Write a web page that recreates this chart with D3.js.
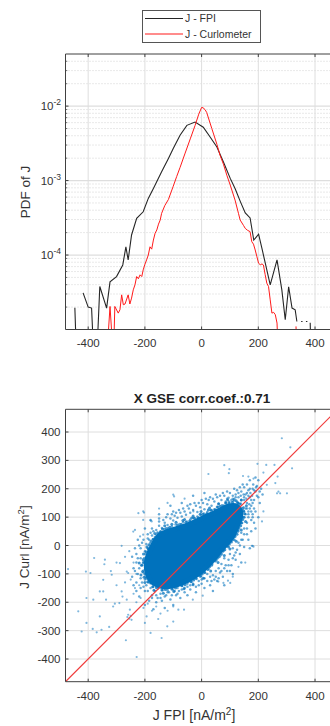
<!DOCTYPE html>
<html><head><meta charset="utf-8">
<script src="https://cdn.jsdelivr.net/npm/d3@7"></script>
<style>
body{margin:0;background:#fff;}
svg{display:block;font-family:"Liberation Sans",Arial,Helvetica,sans-serif;}
</style></head><body>
<svg id="c" width="330" height="726"></svg>
<script>
// ---------- DATA ----------
const legendLabels = ["J - FPI", "J - Curlometer"];
const titleText = "X GSE corr.coef.:0.71";
const xTickVals = [-400, -200, 0, 200, 400];
const pdfTickVals = [1e-4, 1e-3, 1e-2];
const pdfTickExp = ["-4", "-3", "-2"];
const curlTickVals = [-400, -300, -200, -100, 0, 100, 200, 300, 400];

// PDF of J, FPI (black); null = empty bin
const fpiJ = [-447,-441,-430,-418,-400,-388,-380,-370,-359,-335,-323,-300,-278,-267,-259,-247,-229,-206,-188,-170,-141,-117,-100,-76,-52,-23,6,30,54,77,101,118,136,154,171,184,201,214,242,266,283,295,307,319,330,336,342,351,356,362,368,373,378,383,386];
const fpiPdf = [1.96e-5,4e-6,null,3.1e-5,2.0e-5,1.94e-5,4e-6,4e-6,3.78e-5,1.94e-5,4.37e-5,5.14e-5,7.36e-5,1.29e-4,8.6e-5,1.86e-4,3.11e-4,3.81e-4,5.76e-4,7.84e-4,1.31e-3,1.98e-3,2.69e-3,4.06e-3,5.52e-3,6.1e-3,5.2e-3,3.85e-3,2.83e-3,1.78e-3,1.07e-3,7.84e-4,5.3e-4,3.67e-4,3.15e-4,1.59e-4,1.91e-4,1.17e-4,3.98e-5,8.6e-5,3.4e-5,1.35e-5,3.75e-5,1.94e-5,1.84e-5,1.28e-5,null,1.28e-5,1.28e-5,null,1.28e-5,1.28e-5,null,1.23e-5,4e-6];

// PDF of J, Curlometer (red)
const curlJ = [-335,-323,-311,-306,-294,-288,-282,-276,-270,-259,-253,-247,-241,-235,-229,-223,-217,-211,-206,-200,-194,-188,-182,-176,-170,-164,-158,-152,-146,-141,-130,-117,-100,-88,-76,-58,-40,-23,-10,0,5,12,18,36,54,65,77,89,101,118,130,136,148,154,162,171,177,183,189,195,201,207,213,218,224,230,236,242,248,254,260,266,271,277,330,333,336];
const curlPdf = [4e-6,2.04e-5,4e-6,2.04e-5,1.66e-5,1.84e-5,2.92e-5,2.15e-5,2.2e-5,2.92e-5,2.2e-5,2.64e-5,3.41e-5,3.98e-5,5.14e-5,4.8e-5,5.42e-5,5.14e-5,6.32e-5,7.5e-5,8.6e-5,1.0e-4,1.29e-4,1.2e-4,1.59e-4,1.96e-4,2.17e-4,2.6e-4,2.95e-4,3.63e-4,4.6e-4,5.58e-4,8.4e-4,1.13e-3,1.5e-3,2.34e-3,3.63e-3,5.5e-3,7.8e-3,9.6e-3,9.5e-3,9.0e-3,8.2e-3,5.0e-3,3.07e-3,2.19e-3,1.66e-3,1.18e-3,8.7e-4,5.47e-4,3.63e-4,2.95e-4,2.49e-4,2.28e-4,2.15e-4,2.06e-4,1.51e-4,1.4e-4,1.17e-4,9.5e-5,7.76e-5,7.4e-5,7.6e-5,7.36e-5,5.5e-5,4.19e-5,3.78e-5,2.5e-5,1.66e-5,1.7e-5,1.58e-5,1.22e-5,4e-6,null,null,1.1e-5,4e-6];

// Scatter: saturated core outline (J FPI, J Curl)
const coreOutline = [[-192,-95],[-195,-60],[-185,-25],[-170,5],[-150,35],[-120,50],[-80,62],[-50,72],[-20,85],[10,100],[40,113],[70,128],[100,140],[125,138],[138,118],[135,90],[122,60],[108,30],[88,5],[65,-20],[45,-45],[20,-72],[-5,-95],[-35,-115],[-65,-130],[-100,-142],[-135,-145],[-165,-135],[-183,-118]];

// Scatter: dense points along the core edge
const edgePts = [[-200,-100],[-208,-92],[-203,-112],[-214,-104],[-204,-58],[-212,-70],[-206,-50],[-220,-62],[-196,-22],[-193,-5],[-205,-30],[-188,-12],[-178,15],[-170,22],[-186,2],[-163,18],[-155,45],[-145,48],[-165,42],[-138,58],[-125,60],[-112,64],[-130,70],[-105,75],[-85,72],[-72,75],[-90,82],[-66,88],[-55,82],[-42,86],[-60,92],[-35,97],[-25,96],[-12,98],[-30,104],[-5,110],[5,110],[18,112],[-2,120],[24,125],[35,124],[48,126],[28,132],[55,136],[66,138],[78,140],[60,146],[85,150],[96,150],[108,152],[92,160],[115,162],[128,150],[135,145],[122,158],[140,160],[148,122],[145,130],[152,112],[158,140],[145,92],[142,80],[150,100],[155,85],[132,62],[128,50],[138,70],[140,55],[118,32],[115,20],[125,40],[122,15],[98,5],[95,-5],[105,12],[100,-12],[75,-20],[70,-30],[82,-15],[80,-35],[55,-45],[48,-55],[62,-40],[58,-60],[28,-75],[22,-85],[35,-70],[32,-90],[2,-100],[-5,-108],[10,-95],[6,-115],[-28,-122],[-38,-128],[-20,-115],[-30,-138],[-58,-138],[-70,-142],[-50,-128],[-62,-152],[-92,-150],[-105,-153],[-85,-140],[-98,-162],[-128,-155],[-140,-157],[-120,-150],[-135,-168],[-160,-148],[-172,-145],[-152,-142],[-168,-158],[-190,-128],[-195,-115],[-180,-132],[-200,-130]];

// Scatter: sparser points around the core
const fringePts = [[-198,-30],[-190,-10],[-182,8],[-172,22],[-160,38],[-145,50],[-132,58],[-118,62],[-105,68],[-92,74],[-78,76],[-65,82],[-52,85],[-40,92],[-28,98],[-15,102],[-3,108],[8,113],[20,118],[32,124],[45,128],[58,136],[72,142],[85,150],[98,154],[112,156],[126,152],[138,148],[148,135],[150,120],[147,100],[140,78],[130,55],[118,38],[105,18],[92,-3],[78,-18],[66,-35],[52,-52],[38,-65],[25,-82],[12,-95],[-2,-108],[-18,-118],[-35,-128],[-50,-135],[-68,-142],[-85,-150],[-102,-155],[-120,-158],[-138,-158],[-155,-152],[-172,-145],[-188,-130],[-198,-110],[-205,-88],[-207,-62],[-203,-45],
[-200,-20],[-195,5],[-185,20],[-175,35],[-165,30],[-160,55],[-150,70],[-140,62],[-130,80],[-120,72],[-110,95],[-100,88],[-95,105],[-85,98],[-75,115],[-70,102],[-60,120],[-55,108],[-45,130],[-40,115],[-30,125],[-20,140],[-15,118],[-5,135],[5,150],[10,128],[20,145],[25,160],[35,140],[45,155],[55,170],[60,148],[70,160],[80,175],[85,155],[95,168],[100,185],[110,165],[120,180],[125,195],[130,170],[140,190],[150,205],[155,180],[160,215],[165,195],[170,230],[145,215],[135,205],[115,200],[90,190],[75,185],[50,180],[30,170],[0,160],[-25,150],[-50,140],[-80,125],[-105,110],[-125,100],[-150,85],[-175,60],[-190,40],[-210,10],[-215,-10],
[150,160],[160,150],[170,170],[175,140],[180,200],[185,160],[190,190],[165,120],[155,130],[140,160],[130,150],[175,120],[185,130],[195,210],[200,170],[205,150],[200,230],[190,240],[210,200],[215,180],
[165,100],[160,80],[175,90],[150,60],[160,40],[140,45],[145,20],[130,10],[125,-15],[110,-10],[115,-35],[100,-30],[95,-50],[80,-45],[85,-70],[70,-65],[60,-80],[65,-95],[50,-90],[40,-105],[45,-120],[30,-110],[20,-125],[10,-115],[0,-135],[-10,-125],[-20,-145],[-30,-135],[-40,-155],[-50,-145],[-60,-165],[-70,-155],[-85,-170],[-95,-160],[-105,-175],[-120,-165],[-130,-180],[-145,-170],[-155,-185],[-165,-160],[-175,-175],[-180,-150],[-195,-140],[-200,-120],[-205,-95],[-210,-70],[-215,-45],[-200,-160],[-185,-195],[-160,-200],[-140,-195],[-110,-190],[-75,-185],[-50,-175],[-20,-165],[10,-150],[30,-140],[55,-125],[75,-110],[90,-90],[105,-70],[120,-50],[135,-30],[150,-5],[165,20],[175,50],[185,80],[180,110],[200,100],[190,60],[170,-10],[140,-60],[110,-100],[80,-140],[40,-160],[-100,-210],[-130,-220],[-170,-225],[-200,-210],[-220,-180],[-230,-130],[-235,-90],[-230,-30],[-225,20],[-200,60],[-180,90],[-150,110],[-110,140],[-70,150],[-30,175],[10,185],
[150,170],[158,165],[165,175],[172,185],[178,175],[185,195],[160,185],[148,180],[138,175],[170,200],[182,215],[192,205],[175,160],[168,145],[180,150],[195,175],[205,190],[120,170],[110,175],[130,185],[105,160],[90,165],[160,130],[170,130],[155,110],[165,110],[180,100],[190,120],
[-210,-130],[-215,-115],[-225,-100],[-220,-80],[-230,-60],[-225,-45],[-215,-150],[-205,-145],[-190,-160],[-175,-185],[-160,-175],[-145,-185],[-125,-175],[-115,-165],[-90,-175],[-80,-160],[-60,-150],[-40,-140],[-230,-160],[-240,-140],[-245,-110],[-240,-80],[-245,-40],[-235,-10],[-220,0],[-205,20],
[-190,25],[-180,45],[-170,50],[-150,95],[-135,90],[-120,110],[-100,120],[-90,115],[-65,130],[-40,145],[-10,150],[15,165],[40,165],[65,175],
[20,-100],[35,-125],[50,-110],[70,-90],[80,-80],[95,-70],[110,-45],[120,-25],[135,0],[140,20],[150,40],[160,60],[100,-90],[60,-115],[0,-120],[-10,-140]];

// Scatter: isolated points
const outlierPts = [[283,378],[313,346],[319,272],[197,288],[228,284],[257,284],[80,283],[98,269],[96,255],[24,252],[218,257],[268,243],[146,245],[165,243],[183,236],[260,220],[266,184],[277,184],[230,214],[301,184],[271,190],[-97,173],[-100,179],[213,85],[218,120],[-203,116],[-223,114],[-206,120],[-235,55],[-206,90],[-180,88],[-176,85],[180,-1],[183,-4],[-29,120],
[-471,-83],[-435,-232],[-423,-303],[-406,-273],[-384,-294],[-406,-185],[-408,-92],[-392,-97],[-382,-191],[-379,-44],[-359,-162],[-347,-162],[-359,-250],[-370,-306],[-353,-297],[-341,-50],[-343,-66],[-337,-191],[-326,-287],[-317,-103],[-347,-121],[-312,-215],[-306,-205],[-290,-203],[-288,-62],[-282,-1],[-264,-92],[-259,-97],[-282,-162],[-279,-180],[-264,-191],[-259,-244],[-267,-334],[-247,-262],[-229,-393],[-253,-226],[-235,-150],[-241,49],[-194,-250],[-200,-273],[-180,-308],[-153,-259],[-141,-326],[-121,-285],[-100,-268],[-82,-226],[-62,-226],[-31,-191],[4,-177],[59,-127],[93,-124],[101,-132],[77,-132],[154,-60],[177,-1],[-206,38],[-217,32],
[-262,-252],[-255,-258],[-250,-248],[-230,-200],[-215,-185],[-205,-220],[-190,-205],[-175,-230],[-160,-215],[-145,-240],[-120,-230],[-100,-215],[-240,-170],[-220,-140],[-250,-120],[-270,-130],[-300,-140],[-320,-90],[-300,-60],[-270,-40],[-255,-20],[-240,-60],[-230,-100],[110,-110],[130,-75],[-120,150],[-60,165],[-150,130]];

const diagLine = [-480, 480];

// ---------- DRAW ----------
const svg = d3.select("#c");
svg.append("rect").attr("width", 330).attr("height", 726).attr("fill", "#fff");
const defs = svg.append("defs");

const L = 65.5, R = 337.7;
const axisCol = "#404040", gridCol = "#dedede", textCol = "#333";
const x = d3.scaleLinear().domain([-480, 480]).range([L, R]);

// ===== Top plot =====
const t1 = 54, b1 = 329.5;
const y1 = d3.scaleLog().domain([1e-5, 0.0501]).range([b1, t1]);
defs.append("clipPath").attr("id", "cp1").append("rect")
  .attr("x", L).attr("y", t1).attr("width", R - L).attr("height", b1 - t1);
const g1 = svg.append("g");

const minorVals = [];
for (let e = -5; e <= -2; e++) for (let k = 2; k <= 9; k++) {
  const v = k * Math.pow(10, e); if (v < 0.05) minorVals.push(v);
}
g1.selectAll(".mg").data(minorVals).join("line")
  .attr("x1", L).attr("x2", R).attr("y1", d => y1(d)).attr("y2", d => y1(d))
  .attr("stroke", "#c8c8c8").attr("stroke-width", 0.8).attr("stroke-dasharray", "1,2");
g1.selectAll(".hg").data(pdfTickVals).join("line")
  .attr("x1", L).attr("x2", R).attr("y1", d => y1(d)).attr("y2", d => y1(d))
  .attr("stroke", gridCol).attr("stroke-width", 1.2);
g1.selectAll(".vg").data(xTickVals).join("line")
  .attr("x1", d => x(d)).attr("x2", d => x(d)).attr("y1", t1).attr("y2", b1)
  .attr("stroke", gridCol).attr("stroke-width", 1);

const pdfLine = d3.line().defined(d => d[1] != null)
  .x(d => x(d[0])).y(d => y1(Math.max(d[1], 1e-6)));
const plot1 = g1.append("g").attr("clip-path", "url(#cp1)");
plot1.append("path").datum(fpiJ.map((v, i) => [v, fpiPdf[i]]))
  .attr("d", pdfLine).attr("fill", "none").attr("stroke", "#262626").attr("stroke-width", 1.1);
plot1.append("path").datum(curlJ.map((v, i) => [v, curlPdf[i]]))
  .attr("d", pdfLine).attr("fill", "none").attr("stroke", "#ff1a1a").attr("stroke-width", 1);

// axes top plot
g1.append("path").attr("d", `M${L},${t1}H${R}M${L},${t1}V${b1}H${R}`)
  .attr("fill", "none").attr("stroke", axisCol).attr("stroke-width", 1);
g1.selectAll(".xt").data(xTickVals).join("path")
  .attr("d", d => `M${x(d)},${b1}v-3M${x(d)},${t1}v3`).attr("stroke", axisCol);
g1.selectAll(".yt").data(pdfTickVals).join("path")
  .attr("d", d => `M${L},${y1(d)}h3`).attr("stroke", axisCol);
g1.selectAll(".ymt").data(minorVals).join("path")
  .attr("d", d => `M${L},${y1(d)}h1.8`).attr("stroke", axisCol).attr("stroke-width", 0.7);
g1.selectAll(".xl").data(xTickVals).join("text")
  .attr("x", d => x(d)).attr("y", 347).attr("text-anchor", "middle")
  .attr("font-size", 11.5).attr("fill", textCol).text(d => d);
const yl1 = g1.selectAll(".yl").data(pdfTickVals).join("text")
  .attr("x", 61).attr("y", d => y1(d) + 4).attr("text-anchor", "end")
  .attr("font-size", 11.5).attr("fill", textCol);
yl1.append("tspan").text("10");
yl1.append("tspan").attr("dy", -5).attr("font-size", 8.5).text((d, i) => pdfTickExp[i]);
g1.append("text").attr("transform", "translate(29.5,192) rotate(-90)")
  .attr("text-anchor", "middle").attr("font-size", 13.5).attr("fill", textCol).text("PDF of J");

// legend
const lg = svg.append("g");
lg.append("rect").attr("x", 142.5).attr("y", 10.5).attr("width", 118).attr("height", 32)
  .attr("fill", "#fff").attr("stroke", "#555").attr("stroke-width", 1);
const legCols = ["#262626", "#ff1a1a"];
legendLabels.forEach((lab, i) => {
  const yy = 18.5 + i * 15.5;
  lg.append("line").attr("x1", 145).attr("x2", 183).attr("y1", yy).attr("y2", yy)
    .attr("stroke", legCols[i]).attr("stroke-width", 1.1);
  lg.append("text").attr("x", 185).attr("y", yy + 3.8).attr("font-size", 10.5)
    .attr("fill", textCol).text(lab);
});

// ===== Bottom plot =====
const t2 = 409.3, b2 = 681.7;
const y2 = d3.scaleLinear().domain([-480, 480]).range([b2, t2]);
defs.append("clipPath").attr("id", "cp2").append("rect")
  .attr("x", L).attr("y", t2).attr("width", R - L).attr("height", b2 - t2);
const g2 = svg.append("g");
g2.selectAll(".hg2").data(curlTickVals).join("line")
  .attr("x1", L).attr("x2", R).attr("y1", d => y2(d)).attr("y2", d => y2(d))
  .attr("stroke", gridCol).attr("stroke-width", 1);
g2.selectAll(".vg2").data(xTickVals).join("line")
  .attr("x1", d => x(d)).attr("x2", d => x(d)).attr("y1", t2).attr("y2", b2)
  .attr("stroke", gridCol).attr("stroke-width", 1);

const plot2 = g2.append("g").attr("clip-path", "url(#cp2)");
plot2.selectAll(".op").data(outlierPts).join("circle")
  .attr("cx", d => x(d[0])).attr("cy", d => y2(d[1])).attr("r", 1.1)
  .attr("fill", "#0072BD").attr("opacity", 0.5);
plot2.selectAll(".fp").data(fringePts).join("circle")
  .attr("cx", d => x(d[0])).attr("cy", d => y2(d[1])).attr("r", 1.25)
  .attr("fill", "#0072BD").attr("opacity", 0.6);
plot2.selectAll(".ep").data(edgePts).join("circle")
  .attr("cx", d => x(d[0])).attr("cy", d => y2(d[1])).attr("r", 1.5)
  .attr("fill", "#0072BD").attr("opacity", 0.75);
plot2.append("path").datum(coreOutline)
  .attr("d", d3.line().x(d => x(d[0])).y(d => y2(d[1])).curve(d3.curveCatmullRomClosed))
  .attr("fill", "#0072BD").attr("stroke", "#0072BD").attr("stroke-width", 5)
  .attr("stroke-linejoin", "round");
plot2.append("line")
  .attr("x1", x(diagLine[0])).attr("y1", y2(diagLine[0]))
  .attr("x2", x(diagLine[1])).attr("y2", y2(diagLine[1]))
  .attr("stroke", "#f03a3a").attr("stroke-width", 1.2);

g2.append("path").attr("d", `M${L},${t2}H${R}M${L},${t2}V${b2}H${R}`)
  .attr("fill", "none").attr("stroke", axisCol).attr("stroke-width", 1);
g2.selectAll(".xt2").data(xTickVals).join("path")
  .attr("d", d => `M${x(d)},${b2}v-3M${x(d)},${t2}v3`).attr("stroke", axisCol);
g2.selectAll(".yt2").data(curlTickVals).join("path")
  .attr("d", d => `M${L},${y2(d)}h3`).attr("stroke", axisCol);
g2.selectAll(".xl2").data(xTickVals).join("text")
  .attr("x", d => x(d)).attr("y", 700).attr("text-anchor", "middle")
  .attr("font-size", 11.5).attr("fill", textCol).text(d => d);
g2.selectAll(".yl2").data(curlTickVals).join("text")
  .attr("x", 60.5).attr("y", d => y2(d) + 4).attr("text-anchor", "end")
  .attr("font-size", 11.5).attr("fill", textCol).text(d => d);

g2.append("text").attr("x", 202).attr("y", 403).attr("text-anchor", "middle")
  .attr("font-size", 13.5).attr("font-weight", "bold").attr("fill", "#222").text(titleText);

const xlab = g2.append("text").attr("x", 194).attr("y", 720).attr("text-anchor", "middle")
  .attr("font-size", 14).attr("fill", textCol);
xlab.append("tspan").text("J FPI [nA/m");
xlab.append("tspan").attr("dy", -5).attr("font-size", 10).text("2");
xlab.append("tspan").attr("dy", 5).text("]");

const ylab = g2.append("text").attr("transform", "translate(28.5,547) rotate(-90)")
  .attr("text-anchor", "middle").attr("font-size", 13.5).attr("fill", textCol);
ylab.append("tspan").text("J Curl [nA/m");
ylab.append("tspan").attr("dy", -5).attr("font-size", 9.5).text("2");
ylab.append("tspan").attr("dy", 5).text("]");
</script>
</body></html>
